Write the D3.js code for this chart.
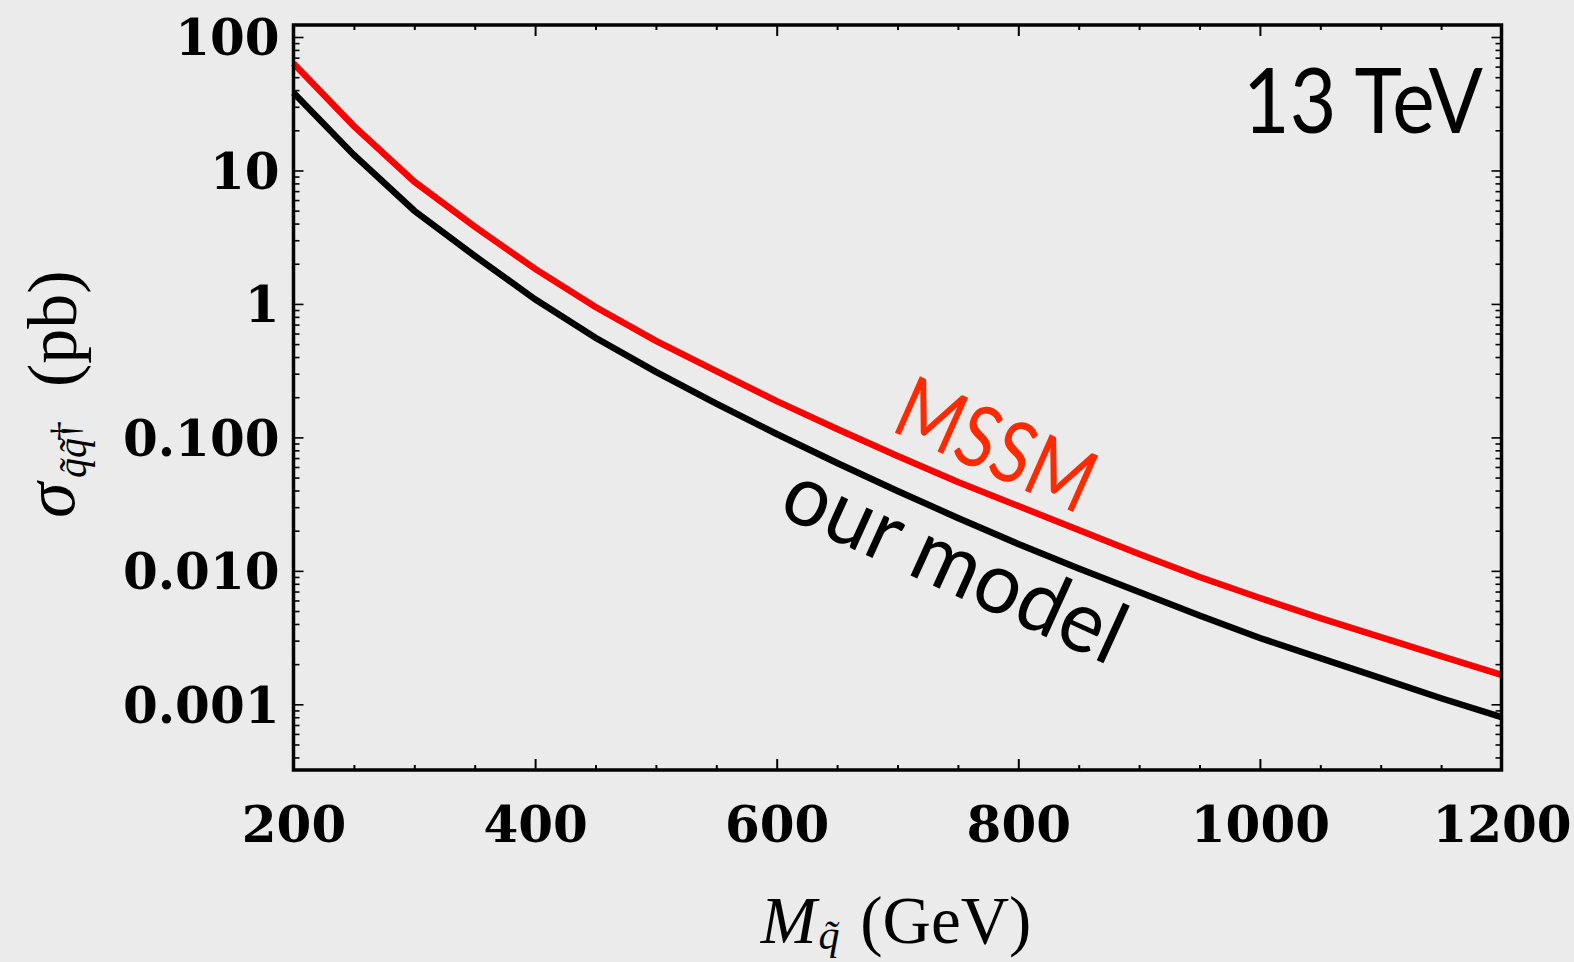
<!DOCTYPE html>
<html>
<head>
<meta charset="utf-8">
<script src="https://cdn.jsdelivr.net/npm/d3@7"></script>
<style>
body { margin: 0; background: #ebebeb; }
</style>
</head>
<body>
<div id="chart"></div>
<script>
// squark mass (GeV) and cross sections (pb)
const masses = [200, 250, 300, 350, 400, 450, 500, 550, 600, 650, 700, 750, 800, 850, 900, 950, 1000, 1050, 1100, 1150, 1200];
const mssm = [63.3, 21.5, 8.24, 3.79, 1.83, 0.948, 0.528, 0.314, 0.187, 0.1156, 0.0725, 0.0463, 0.0306, 0.0202, 0.01337, 0.00899, 0.00626, 0.00443, 0.00319, 0.00230, 0.00166];
const ourModel = [38.2, 13.06, 4.99, 2.29, 1.083, 0.558, 0.310, 0.179, 0.106, 0.0643, 0.0397, 0.0249, 0.0159, 0.0104, 0.00694, 0.00463, 0.00314, 0.00222, 0.00157, 0.00111, 0.000803];

const xTicks = [200, 400, 600, 800, 1000, 1200];
const yTicks = [100, 10, 1, 0.1, 0.01, 0.001];
const yTickLabels = ["100", "10", "1", "0.100", "0.010", "0.001"];

const width = 1574;
const height = 962;

const svg = d3.select("#chart")
    .append("svg")
    .attr("width", width)
    .attr("height", height)
    .style("background", "#ebebeb");

const x = d3.scaleLinear().domain([200, 1200]).range([293.5, 1501.5]);
const y = d3.scaleLog().domain([3.22e-4, 123]).range([770, 25]);

// minor tick positions
const xMinor = d3.range(200, 1201, 50);
const yMinor = [];
[1e-4, 1e-3, 1e-2, 1e-1, 1, 10, 100].forEach(p => {
    for (let k = 1; k <= 9; k++) {
        const v = +(p * k).toPrecision(3);
        if (v >= y.domain()[0] && v <= y.domain()[1]) yMinor.push(v);
    }
});
const majorIndex = v => yTicks.findIndex(t => Math.abs(t - v) / t < 1e-6);
const isMajorY = v => majorIndex(v) >= 0;

const tickFont = "'DejaVu Serif', serif";

// left axis
const axLeft = svg.append("g")
    .attr("transform", "translate(293.5,0)")
    .call(d3.axisLeft(y).tickValues(yMinor).tickSize(-6).tickPadding(14)
        .tickFormat(v => isMajorY(v) ? yTickLabels[majorIndex(v)] : ""));
axLeft.select(".domain").remove();
axLeft.selectAll(".tick line")
    .attr("x2", d => isMajorY(d) ? 10 : 6)
    .attr("stroke", "#000")
    .attr("stroke-width", 1.6);
axLeft.selectAll(".tick text")
    .attr("dy", "0.36em")
    .style("font-family", tickFont)
    .style("font-weight", "bold")
    .style("font-size", "50px")
    .attr("fill", "#000");

// right axis
const axRight = svg.append("g")
    .attr("transform", "translate(1501.5,0)")
    .call(d3.axisRight(y).tickValues(yMinor).tickSize(-6).tickFormat(""));
axRight.select(".domain").remove();
axRight.selectAll(".tick line")
    .attr("x2", d => isMajorY(d) ? -10 : -6)
    .attr("stroke", "#000")
    .attr("stroke-width", 1.6);

// bottom axis
const axBottom = svg.append("g")
    .attr("transform", "translate(0,770)")
    .call(d3.axisBottom(x).tickValues(xMinor).tickSize(-5)
        .tickFormat(v => xTicks.includes(v) ? v : ""));
axBottom.select(".domain").remove();
axBottom.selectAll(".tick line")
    .attr("y2", d => xTicks.includes(d) ? -11 : -5)
    .attr("stroke", "#000")
    .attr("stroke-width", 2);
axBottom.selectAll(".tick text")
    .attr("y", 72)
    .attr("dy", 0)
    .style("font-family", tickFont)
    .style("font-weight", "bold")
    .style("font-size", "50px")
    .attr("fill", "#000");

// top axis
const axTop = svg.append("g")
    .attr("transform", "translate(0,25)")
    .call(d3.axisTop(x).tickValues(xMinor).tickSize(-5).tickFormat(""));
axTop.select(".domain").remove();
axTop.selectAll(".tick line")
    .attr("y2", d => xTicks.includes(d) ? 11 : 5)
    .attr("stroke", "#000")
    .attr("stroke-width", 2);

// curves
const line = (vals) => d3.line()
    .x((d, i) => x(masses[i]))
    .y(d => y(d))(vals);

svg.append("path")
    .attr("d", line(ourModel))
    .attr("fill", "none")
    .attr("stroke", "#000")
    .attr("stroke-width", 6.5);

svg.append("path")
    .attr("d", line(mssm))
    .attr("fill", "none")
    .attr("stroke", "#ff0000")
    .attr("stroke-width", 6.5);

// frame
svg.append("rect")
    .attr("x", 293.5)
    .attr("y", 25)
    .attr("width", 1501.5 - 293.5)
    .attr("height", 770 - 25)
    .attr("fill", "none")
    .attr("stroke", "#000")
    .attr("stroke-width", 3.5);

// annotations
const sans = "Lato, 'Open Sans', sans-serif";
svg.append("text")
    .attr("x", 1483)
    .attr("y", 133)
    .attr("text-anchor", "end")
    .attr("textLength", 240)
    .attr("lengthAdjust", "spacingAndGlyphs")
    .style("font-family", sans)
    .style("font-size", "92px")
    .text("13 TeV");

svg.append("text")
    .attr("transform", "translate(889,430) rotate(24)")
    .attr("textLength", 208)
    .attr("lengthAdjust", "spacingAndGlyphs")
    .style("font-family", sans)
    .style("font-size", "86px")
    .attr("fill", "#ff2a00")
    .text("MSSM");

svg.append("text")
    .attr("transform", "translate(776,514) rotate(24.5)")
    .attr("textLength", 366)
    .attr("lengthAdjust", "spacingAndGlyphs")
    .style("font-family", sans)
    .style("font-size", "86px")
    .attr("fill", "#000")
    .text("our model");

// axis titles
const serif = "'Liberation Serif', 'DejaVu Serif', serif";
const xt = svg.append("text")
    .attr("x", 896)
    .attr("y", 943)
    .attr("text-anchor", "middle")
    .style("font-family", serif)
    .style("font-size", "67px");
xt.append("tspan").style("font-style", "italic").text("M");
xt.append("tspan").style("font-style", "italic").style("font-size", "42px").attr("dx", 2).attr("dy", 6).text("q\u0303");
xt.append("tspan").attr("dy", -6).attr("dx", 4).text(" (GeV)");

// y title, built from pieces placed along the rotated axis
const yTitle = [
    {txt: "σ", at: 518, base: 74, size: 72, italic: true},
    {txt: "q\u0303q\u0303", at: 478, base: 86, size: 40, italic: true},
    {txt: "†", at: 441, base: 78, size: 40, italic: false},
    {txt: "(pb)", at: 387, base: 76, size: 70, italic: false}
];
svg.selectAll("text.ytitle")
    .data(yTitle)
    .join("text")
    .attr("class", "ytitle")
    .attr("transform", d => "translate(" + d.base + "," + d.at + ") rotate(-90)")
    .style("font-family", serif)
    .style("font-size", d => d.size + "px")
    .style("font-style", d => d.italic ? "italic" : "normal")
    .text(d => d.txt);
</script>
</body>
</html>
